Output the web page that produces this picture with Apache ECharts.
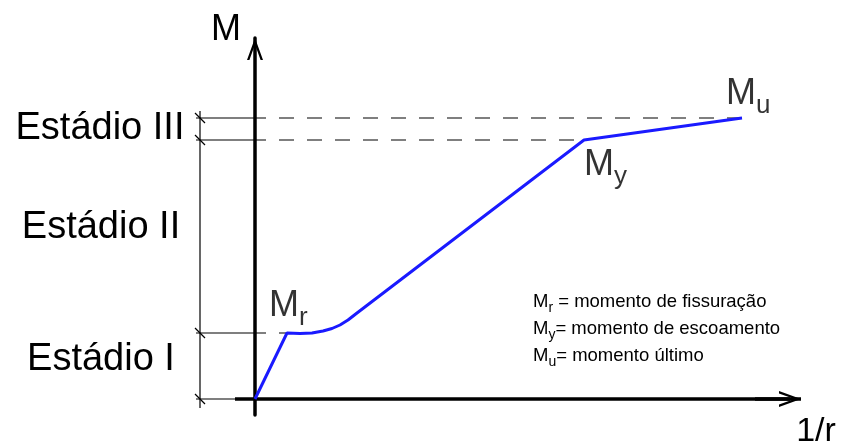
<!DOCTYPE html>
<html>
<head>
<meta charset="utf-8">
<script src="https://cdn.jsdelivr.net/npm/echarts@6/dist/echarts.min.js"></script>
<style>
html,body{margin:0;padding:0;background:#fff}
#chart{width:841px;height:443px}
</style>
</head>
<body>
<div id="chart"></div>
<script>
// diagrama momento x curvatura (unidades relativas)
const curvatura = [0, 0.32, 0.45, 0.57, 0.68, 0.77, 0.85, 0.93, 1.02, 3.29, 4.87];
const momento = [0, 0.66, 0.655, 0.66, 0.68, 0.705, 0.74, 0.79, 0.86, 2.59, 2.81];
// indices dos pontos Mr, My, Mu na curva
const pontosIdx = [1, 9, 10];
const pontosSub = ['r', 'y', 'u'];
// niveis de momento da cota a esquerda: origem, Mr, My, Mu
const niveis = [0, momento[1], momento[9], momento[10]];
const estadios = ['Estádio I', 'Estádio II', 'Estádio III'];
const legendaSub = ['r', 'y', 'u'];
const legendaTxt = [' = momento de fissuração', '= momento de escoamento', '= momento último'];

const fonte = '"Liberation Sans", Arial, sans-serif';
const cinza = '#000';
const seta = 'path://M0,22L8,0L16,22L13.6,22L8,6.5L2.4,22Z';

let myChart = echarts.init(document.getElementById('chart'));

// linhas tracejadas do eixo ate os pontos
let tracejadas = pontosIdx.map((i) => {
    return {
        type: 'line',
        data: [[0, momento[i]], [curvatura[i], momento[i]]],
        symbol: 'none',
        silent: true,
        lineStyle: {color: cinza, width: 1.2, type: [15, 13], dashOffset: 4}
    }
})
// linhas de chamada da cota
let chamadas = niveis.map((m) => {
    return {
        type: 'line',
        data: [[-0.59, m], [0, m]],
        symbol: 'none',
        silent: true,
        lineStyle: {color: cinza, width: 1.2}
    }
})
// tracinhos da cota
let tracos = niveis.map((m) => {
    return {
        type: 'line',
        data: [[-0.6, m + 0.05], [-0.5, m - 0.05]],
        symbol: 'none',
        silent: true,
        lineStyle: {color: cinza, width: 1.2}
    }
})

let ricoPonto = {
    m: {fontSize: 36, lineHeight: 50, fontFamily: fonte, color: '#000', verticalAlign: 'middle'},
    s: {fontSize: 26, lineHeight: 50, fontFamily: fonte, color: '#000', verticalAlign: 'bottom'}
}
let posRotulos = [
    {position: [-18, -2], verticalAlign: 'bottom'},
    {position: [0, 0], verticalAlign: 'top'},
    {position: [-16, -49], verticalAlign: 'top'}
]

function texto(t, x, y, tam) {
    return {
        type: 'text',
        style: {
            text: t, x: x, y: y, font: tam + 'px ' + fonte, fill: '#000',
            align: 'center', verticalAlign: 'middle', textAlign: 'center', textVerticalAlign: 'middle'
        }
    }
}

let option = {
    animation: false,
    grid: {left: 0, right: 40, top: 38, bottom: 28},
    xAxis: {
        type: 'value',
        min: -2.55,
        max: 5.46,
        axisLine: {show: false},
        axisTick: {show: false},
        axisLabel: {show: false},
        splitLine: {show: false}
    },
    yAxis: {
        type: 'value',
        min: -0.16,
        max: 3.61,
        axisLine: {
            onZero: true,
            symbol: ['none', seta],
            symbolSize: [16, 22],
            symbolOffset: [0, -11],
            lineStyle: {color: '#000', width: 3.5}
        },
        axisTick: {show: false},
        axisLabel: {show: false},
        splitLine: {show: false}
    },
    graphic: [
        texto('M', 226, 30, 36),
        texto('1/r', 816, 432, 34),
        texto(estadios[2], 100, 129, 38),
        texto(estadios[1], 101, 228, 38),
        texto(estadios[0], 101, 360, 38)
    ].concat(legendaTxt.map((t, k) => {
        return {
            type: 'text',
            style: {
                x: 533, y: 302 + k * 27,
                text: '{m|M}{s|' + legendaSub[k] + '}{m|' + t + '}',
                verticalAlign: 'middle', textVerticalAlign: 'middle',
                rich: {
                    m: {fontSize: 18.5, lineHeight: 24, fontFamily: fonte, fill: '#000', verticalAlign: 'middle'},
                    s: {fontSize: 14, lineHeight: 26, fontFamily: fonte, fill: '#000', verticalAlign: 'bottom'}
                }
            }
        }
    })),
    series: [
        // eixo 1/r
        {
            type: 'line',
            data: [[-0.2, 0], [5.46, 0]],
            symbol: 'none',
            silent: true,
            z: 4,
            lineStyle: {color: '#000', width: 3.5},
            markLine: {
                silent: true,
                symbol: ['none', seta],
                symbolSize: [16, 22],
                label: {show: false},
                lineStyle: {color: '#000', width: 3.5, type: 'solid'},
                data: [[{coord: [5.0, 0]}, {coord: [5.35, 0]}]]
            }
        },
        // cota vertical dos estadios
        {
            type: 'line',
            data: [[-0.55, -0.09], [-0.55, 2.88]],
            symbol: 'none',
            silent: true,
            lineStyle: {color: cinza, width: 1.2}
        }
    ].concat(chamadas, tracos, tracejadas, [
        {
            name: 'M-1/r',
            type: 'line',
            data: curvatura.map((c, i) => [c, momento[i]]),
            symbol: 'none',
            z: 5,
            lineStyle: {color: '#1a1aff', width: 3}
        },
        {
            type: 'scatter',
            symbolSize: 0,
            z: 6,
            data: pontosIdx.map((i, k) => {
                return {
                    value: [curvatura[i], momento[i]],
                    label: {
                        show: true,
                        color: '#000',
                        align: 'left',
                        position: posRotulos[k].position,
                        verticalAlign: posRotulos[k].verticalAlign,
                        formatter: '{m|M}{s|' + pontosSub[k] + '}',
                        rich: ricoPonto
                    }
                }
            })
        }
    ])
};
myChart.setOption(option)
</script>
</body>
</html>
